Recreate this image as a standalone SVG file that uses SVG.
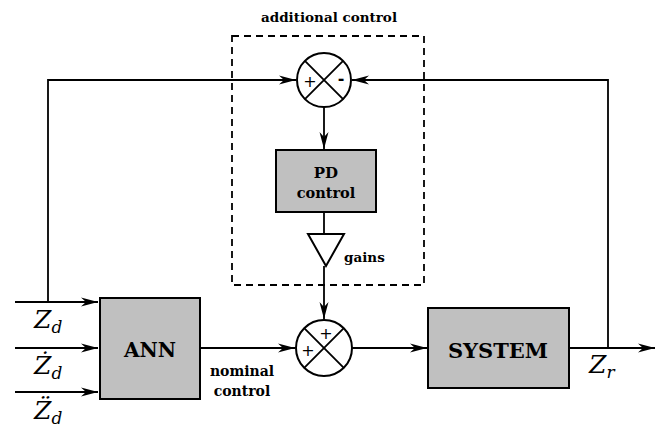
<svg xmlns="http://www.w3.org/2000/svg" width="659" height="428" viewBox="0 0 659 428">
<style>
.ln{fill:none;stroke:#000;stroke-width:1.8}
.blk{fill:#c0c0c0;stroke:#000;stroke-width:2}
.sum{fill:#fff;stroke:#000;stroke-width:2}
.b{font-family:"DejaVu Serif","Liberation Serif",serif;font-weight:bold;fill:#000}
.z{font-family:"DejaVu Serif","Liberation Serif",serif;font-style:italic;fill:#000;font-size:25px}
.sub{font-size:17px}
.sign{font-family:"DejaVu Sans",sans-serif;fill:#000;font-size:16px}
</style>
<defs>
<marker id="ah" markerWidth="18" markerHeight="10" refX="17" refY="5" orient="auto" markerUnits="userSpaceOnUse">
<path d="M0,0.5 L17,5 L0,9.5 L5,5 Z" fill="#000"/>
</marker>
</defs>
<rect width="659" height="428" fill="#fff"/>
<g id="dashed-box">
<rect x="232" y="36" width="192" height="249" fill="none" stroke="#000" stroke-width="1.8" stroke-dasharray="7,5"/>
<text class="b" x="329" y="22" font-size="13.5" text-anchor="middle">additional control</text>
</g>
<g id="connectors">
<path class="ln" d="M15,302 H98" marker-end="url(#ah)"/>
<path class="ln" d="M15,348 H98" marker-end="url(#ah)"/>
<path class="ln" d="M15,392 H98" marker-end="url(#ah)"/>
<path class="ln" d="M48,302 V80 H296" marker-end="url(#ah)"/>
<path class="ln" d="M569,348 H655" marker-end="url(#ah)"/>
<path class="ln" d="M608,348 V80 H352" marker-end="url(#ah)"/>
<path class="ln" d="M324,107 V149" marker-end="url(#ah)"/>
<path class="ln" d="M324,212 V234"/>
<path class="ln" d="M324,266 V319" marker-end="url(#ah)"/>
<path class="ln" d="M200,348 H295" marker-end="url(#ah)"/>
<path class="ln" d="M352,348 H427" marker-end="url(#ah)"/>
</g>
<g id="sum-top">
<circle class="sum" cx="324" cy="80" r="27"/>
<path class="ln" d="M304.9,60.9 L343.1,99.1 M343.1,60.9 L304.9,99.1"/>
<text class="sign" x="310" y="87" text-anchor="middle">+</text>
<text class="sign" x="341" y="84" text-anchor="middle" font-weight="bold">-</text>
</g>
<g id="pd">
<rect class="blk" x="276" y="150" width="100" height="62"/>
<text class="b" x="326" y="178" font-size="15" text-anchor="middle">PD</text>
<text class="b" x="326" y="198" font-size="14.5" text-anchor="middle">control</text>
</g>
<g id="gains">
<path d="M308,234 L344,234 L326,266 Z" fill="#fff" stroke="#000" stroke-width="2"/>
<text class="b" x="344" y="262" font-size="13.5">gains</text>
</g>
<g id="sum-bottom">
<circle class="sum" cx="324" cy="348" r="28"/>
<path class="ln" d="M304.2,328.2 L343.8,367.8 M343.8,328.2 L304.2,367.8"/>
<text class="sign" x="326" y="339" text-anchor="middle" font-size="18">+</text>
<text class="sign" x="308" y="356" text-anchor="middle">+</text>
</g>
<g id="ann">
<rect class="blk" x="100" y="298" width="100" height="101"/>
<text class="b" x="150" y="357" font-size="20" text-anchor="middle">ANN</text>
</g>
<g id="nominal">
<text class="b" x="242" y="376" font-size="14" text-anchor="middle">nominal</text>
<text class="b" x="242" y="396" font-size="14" text-anchor="middle">control</text>
</g>
<g id="system">
<rect class="blk" x="428" y="308" width="141" height="80"/>
<text class="b" x="498" y="358" font-size="21" text-anchor="middle">SYSTEM</text>
</g>
<g id="labels">
<text class="z" x="34" y="328">Z<tspan class="sub" dy="5">d</tspan></text>
<text class="z" x="34" y="374">Ż<tspan class="sub" dy="5">d</tspan></text>
<text class="z" x="34" y="419">Z̈<tspan class="sub" dy="5">d</tspan></text>
<text class="z" x="589" y="373">Z<tspan class="sub" dy="5">r</tspan></text>
</g>
</svg>
